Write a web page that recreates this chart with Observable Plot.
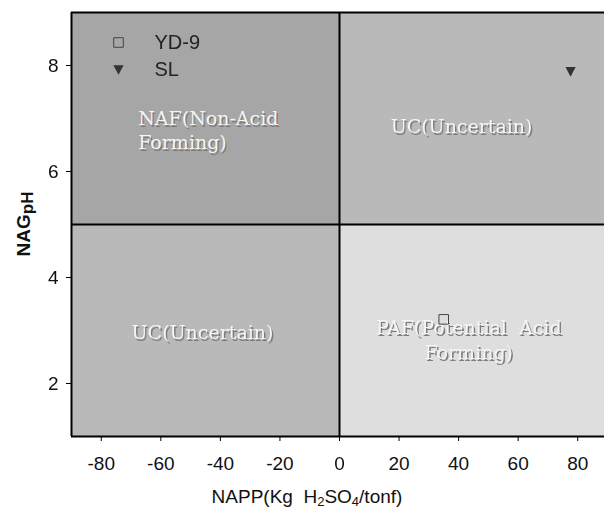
<!DOCTYPE html>
<html>
<head>
<meta charset="utf-8">
<script src="https://cdn.jsdelivr.net/npm/d3@7"></script>
<script src="https://cdn.jsdelivr.net/npm/@observablehq/plot@0.6"></script>
<style>
  html, body { margin: 0; padding: 0; background: #fff; }
  #chart svg { display: block; }
</style>
</head>
<body>
<div id="chart"></div>
<script>
// Samples: net acid producing potential vs. net acid generation pH
const samples = ["YD-9", "SL"];
const napp = [35.0, 77.6];   // kg H2SO4/t
const nagph = [3.21, 7.89];

// Classification limits and axis extent
const nappCut = 0;
const phCut = 5;
const nappRange = [-90, 90];
const phRange = [1, 9];
const xTicks = [-80, -60, -40, -20, 0, 20, 40, 60, 80];
const yTicks = [2, 4, 6, 8];

// Quadrant classes and their label anchors (data units)
const classNames = ["NAF", "UC-high", "UC-low", "PAF"];
const classLabels = ["NAF(Non-Acid\nForming)", "UC(Uncertain)", "UC(Uncertain)", "PAF(Potential  Acid\nForming)"];
const labelNapp = [-67.6, 41.0, -46.0, 43.4];
const labelPh = [6.8, 6.87, 2.98, 2.85];

const quadrants = classNames.map((name, i) => ({
  name,
  x1: i % 2 === 0 ? nappRange[0] : nappCut,
  x2: i % 2 === 0 ? nappCut : nappRange[1],
  y1: i < 2 ? phCut : phRange[0],
  y2: i < 2 ? phRange[1] : phCut
}));
const labels = classLabels.map((text, i) => ({text, x: labelNapp[i], y: labelPh[i], anchor: i === 0 ? "start" : "middle"}));
const points = samples.map((s, i) => ({sample: s, napp: napp[i], ph: nagph[i]}));

const quadFill = {"NAF": "#a6a6a6", "UC-high": "#b9b9b9", "UC-low": "#b9b9b9", "PAF": "#dedede"};

// Downward-pointing triangle symbol
const triangleDown = {
  draw(context, size) {
    const r = Math.sqrt(size / 3);
    context.moveTo(-r, -r * 0.85);
    context.lineTo(r, -r * 0.85);
    context.lineTo(0, r * 1.05);
    context.closePath();
  }
};

const serif = "'DejaVu Serif', 'Liberation Serif', serif";
const sans = "'Liberation Sans', Arial, sans-serif";
const hyphenFormat = d => String(d);
const shadowGray = "#7d7d7d";

const labelStyle = {x: "x", y: "y", text: "text", fontFamily: serif, fontSize: 19, lineHeight: 1.3};

const chart = Plot.plot({
  width: 604,
  height: 514,
  marginLeft: 71,
  marginTop: 12,
  marginRight: 0,
  marginBottom: 78,
  style: {fontFamily: sans, fontSize: "19px", color: "#111", background: "#fff"},
  x: {domain: nappRange, range: [71, 607]},
  y: {domain: phRange},
  marks: [
    Plot.rect(quadrants, {x1: "x1", x2: "x2", y1: "y1", y2: "y2", fill: d => quadFill[d.name]}),
    // label shadows, then labels
    Plot.text(labels.filter(d => d.anchor === "start"), {...labelStyle, textAnchor: "start", fill: shadowGray, dx: 1.5, dy: 2}),
    Plot.text(labels.filter(d => d.anchor === "middle"), {...labelStyle, textAnchor: "middle", fill: shadowGray, dx: 1.5, dy: 2}),
    Plot.text(labels.filter(d => d.anchor === "start"), {...labelStyle, textAnchor: "start", fill: "#f5f5f5"}),
    Plot.text(labels.filter(d => d.anchor === "middle"), {...labelStyle, textAnchor: "middle", fill: "#f5f5f5"}),
    // class boundaries and frame
    Plot.ruleX([nappCut], {stroke: "#000", strokeWidth: 2}),
    Plot.ruleY([phCut], {stroke: "#000", strokeWidth: 2}),
    Plot.ruleX([nappRange[0]], {stroke: "#000", strokeWidth: 2}),
    Plot.ruleY(phRange, {stroke: "#000", strokeWidth: 2}),
    Plot.axisX({ticks: xTicks, tickFormat: hyphenFormat, tickSize: 5, tickPadding: 15, label: null, fontSize: 19, stroke: "#000"}),
    Plot.axisY({ticks: yTicks, tickFormat: hyphenFormat, tickSize: 5, tickPadding: 8, label: null, fontSize: 19, stroke: "#000"}),
    // samples
    Plot.dot(points.filter(d => d.sample === samples[0]), {x: "napp", y: "ph", symbol: "square", r: 5.4, stroke: "#444", strokeWidth: 1, fill: "none"}),
    Plot.dot(points.filter(d => d.sample === samples[1]), {x: "napp", y: "ph", symbol: triangleDown, r: 5, fill: "#333", stroke: "none"}),
    // legend
    Plot.dot([samples[0]], {frameAnchor: "top-left", dx: 47, dy: 30, symbol: "square", r: 5.4, stroke: "#444", strokeWidth: 1, fill: "none"}),
    Plot.dot([samples[1]], {frameAnchor: "top-left", dx: 47, dy: 57, symbol: triangleDown, r: 5, fill: "#333", stroke: "none"}),
    Plot.text([samples[0]], {frameAnchor: "top-left", dx: 83, dy: 30, text: d => d, textAnchor: "start", lineAnchor: "middle", fontSize: 20, fill: "#222"}),
    Plot.text([samples[1]], {frameAnchor: "top-left", dx: 83, dy: 57, text: d => d, textAnchor: "start", lineAnchor: "middle", fontSize: 20, fill: "#222"})
  ]
});

const svg = d3.select(chart);

// Soften the label shadows
svg.selectAll(`g[fill="${shadowGray}"]`).style("filter", "blur(0.7px)");

// Axis titles with subscripts
const yTitle = svg.append("text")
  .attr("transform", "translate(30,224) rotate(-90)")
  .attr("text-anchor", "middle")
  .attr("font-family", sans)
  .attr("font-size", 19)
  .attr("font-weight", "bold")
  .attr("fill", "#111");
yTitle.append("tspan").text("NAG");
yTitle.append("tspan").attr("font-size", 17).attr("dy", 3).text("pH");

const xTitle = svg.append("text")
  .attr("x", 307)
  .attr("y", 503)
  .attr("text-anchor", "middle")
  .attr("font-family", sans)
  .attr("font-size", 19)
  .attr("fill", "#111")
  .attr("xml:space", "preserve");
xTitle.append("tspan").text("NAPP(Kg  H");
xTitle.append("tspan").attr("font-size", 13).attr("dy", 3).text("2");
xTitle.append("tspan").attr("dy", -3).text("SO");
xTitle.append("tspan").attr("font-size", 13).attr("dy", 3).text("4");
xTitle.append("tspan").attr("dy", -3).text("/tonf)");

document.getElementById("chart").append(chart);
</script>
</body>
</html>
